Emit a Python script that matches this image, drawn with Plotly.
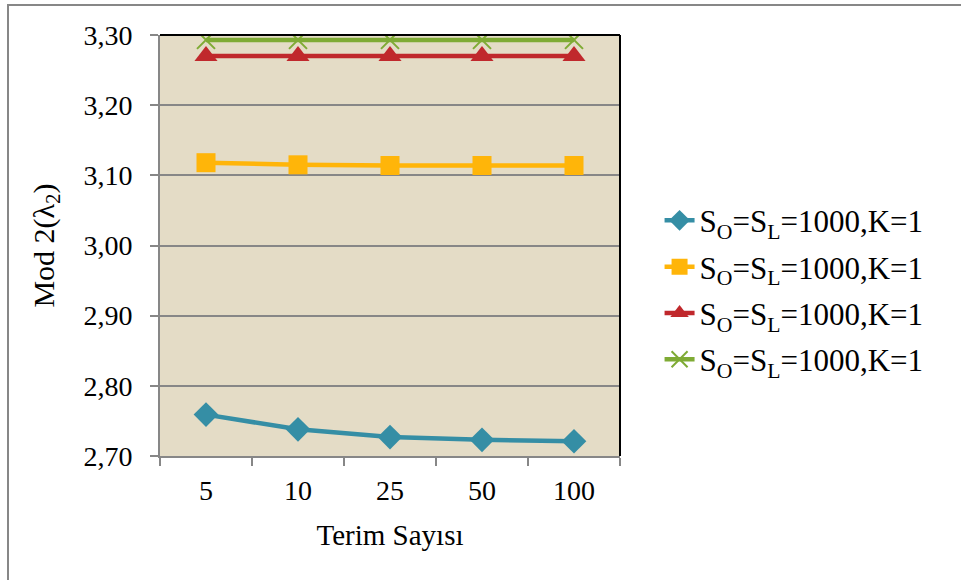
import plotly.graph_objects as go

categories = ["5", "10", "25", "50", "100"]
series_names = ["S<sub>O</sub>=S<sub>L</sub>=1000,K=1"] * 4
blue = [2.759, 2.738, 2.727, 2.723, 2.721]
yellow = [3.118, 3.115, 3.114, 3.114, 3.114]
red = [3.270, 3.270, 3.270, 3.270, 3.270]
green = [3.293, 3.293, 3.293, 3.293, 3.293]
y_ticks = [2.70, 2.80, 2.90, 3.00, 3.10, 3.20, 3.30]

FONT = "Liberation Serif, Times New Roman, serif"

fig = go.Figure()
styles = [
    (blue, "#358EA5", dict(symbol="diamond", size=19)),
    (yellow, "#FFB509", dict(symbol="square", size=19)),
    (red, "#C0282C", dict(symbol="triangle-up", size=20)),
    (green, "#7FAB35", dict(symbol="x-thin-open", size=18, line=dict(width=2, color="#7FAB35"))),
]
for i, (vals, col, mk) in enumerate(styles):
    fig.add_trace(go.Scatter(
        x=categories, y=vals, mode="lines+markers",
        name=series_names[i], legendgroup=f"g{i}",
        line=dict(color=col, width=4.5),
        marker=dict(color=col, **mk),
    ))

fig.update_layout(
    width=961, height=580,
    margin=dict(l=160, r=341, t=35, b=124),
    paper_bgcolor="white", plot_bgcolor="#E4DCC6",
    separators=",.",
    font=dict(family=FONT, size=28, color="black"),
    legend=dict(x=1.086, y=0.623, xanchor="left", yanchor="top",
                font=dict(family=FONT, size=31), tracegroupgap=3,
                bgcolor="rgba(0,0,0,0)"),
    xaxis=dict(type="category", range=[-0.5, 4.5], showgrid=False, showline=True,
               linecolor="#878787", linewidth=2, ticks="outside", tickson="boundaries",
               ticklen=8, tickcolor="#878787", tickwidth=2,
               tickfont=dict(size=28), ticklabelstandoff=8,
               title=dict(text="Terim Sayısı", standoff=20, font=dict(size=29))),
    yaxis=dict(range=[2.70, 3.30], tickvals=y_ticks, tickformat=".2f",
               showgrid=True, gridcolor="#878787", gridwidth=2,
               showline=True, linecolor="#878787", linewidth=2,
               ticks="outside", ticklen=8, tickcolor="#878787", tickwidth=2,
               zeroline=False, tickfont=dict(size=28), ticklabelstandoff=12,
               title=dict(text="Mod 2(λ<sub>2</sub>)", standoff=20, font=dict(size=30))),
)

# plot-area border top/right in black
fig.add_shape(type="line", xref="paper", yref="paper", x0=0, x1=1, y0=1, y1=1,
              line=dict(color="black", width=2))
fig.add_shape(type="line", xref="paper", yref="paper", x0=1, x1=1, y0=0, y1=1,
              line=dict(color="black", width=2))
# outer chart frame (top and left visible)
fig.add_shape(type="rect", xref="paper", yref="paper",
              x0=(8 - 160) / 460, x1=(975 - 160) / 460,
              y0=(456 - 595) / 421, y1=(456 - 5) / 421,
              line=dict(color="#878787", width=2), layer="below")

fig.write_html("out.html")
